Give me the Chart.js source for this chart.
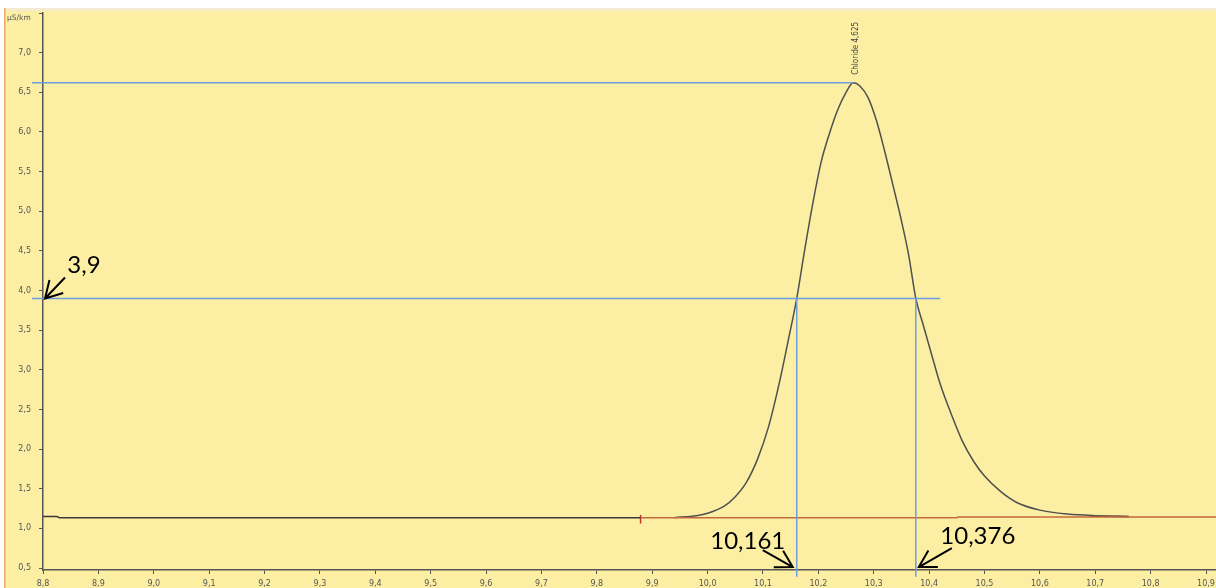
<!DOCTYPE html>
<html lang="de">
<head>
  <meta charset="UTF-8">
  <title>Chloride peak</title>
  <script src="https://cdn.jsdelivr.net/npm/chart.js"></script>
  <style>
    body { margin: 0; padding: 0; background: #fff; }
    .wrap { width: 1216px; height: 588px; position: relative; }
  </style>
</head>
<body>
  <div class="wrap"><canvas id="chromChart"></canvas></div>

  <script>
    // axis ticks (minutes / µS/km)
    const xTickValues = [8.8, 8.9, 9.0, 9.1, 9.2, 9.3, 9.4, 9.5, 9.6, 9.7, 9.8, 9.9,
                         10.0, 10.1, 10.2, 10.3, 10.4, 10.5, 10.6, 10.7, 10.8, 10.9];
    const yTickValues = [0.5, 1.0, 1.5, 2.0, 2.5, 3.0, 3.5, 4.0, 4.5, 5.0, 5.5, 6.0, 6.5, 7.0, 7.5];

    // baseline before the integration start
    const baseTimes  = [8.8, 8.825, 8.83, 9.879];
    const baseValues = [1.15, 1.15, 1.135, 1.135];

    // integration baseline (red)
    const intTimes  = [9.879, 10.45, 10.452, 10.92];
    const intValues = [1.135, 1.135, 1.145, 1.145];
    const markerTime = 9.879;
    const markerValues = [1.06, 1.17];

    // chloride peak
    const peakTimes  = [9.94, 9.98, 10.0, 10.03, 10.05, 10.07, 10.09, 10.11, 10.13, 10.145,
                        10.161, 10.175, 10.19, 10.205, 10.22, 10.235, 10.25, 10.263,
                        10.275, 10.29, 10.305, 10.32, 10.335, 10.35, 10.363, 10.376,
                        10.39, 10.405, 10.42, 10.44, 10.46, 10.48, 10.5, 10.53,
                        10.56, 10.6, 10.65, 10.7, 10.76];
    const peakValues = [1.135, 1.16, 1.19, 1.28, 1.4, 1.58, 1.87, 2.28, 2.85, 3.35,
                        3.9, 4.5, 5.1, 5.62, 5.98, 6.28, 6.5, 6.62,
                        6.58, 6.43, 6.14, 5.75, 5.32, 4.88, 4.45, 3.9,
                        3.55, 3.18, 2.82, 2.44, 2.1, 1.85, 1.66, 1.46,
                        1.32, 1.23, 1.18, 1.16, 1.15];
    const peakTailTimes  = [10.69, 10.76];
    const peakTailValues = [1.157, 1.15];

    const peakName = 'Chloride 4,625';
    const peakTime = 10.263;
    const peakHeight = 6.62;
    const halfHeight = 3.9;
    const leftTime = 10.161;
    const rightTime = 10.376;
    const helperStart = 8.78;
    const helperEnd = 10.42;
    const axisFoot = 0.39;

    const fmt = (v, d) => v.toFixed(d).replace('.', ',');
    const pts = (xs, ys) => xs.map((x, i) => ({ x: x, y: ys[i] }));

    const lineSet = (data, color, width) => ({
      data: data, borderColor: color, borderWidth: width, showLine: true,
      pointRadius: 0, fill: false, clip: false
    });

    const backgroundPlugin = {
      id: 'paper',
      beforeDraw(chart) {
        const ctx = chart.ctx;
        ctx.save();
        ctx.fillStyle = '#ffffff';
        ctx.fillRect(0, 0, chart.width, chart.height);
        ctx.fillStyle = '#fcefa3';
        ctx.fillRect(5, 8, chart.width - 5, chart.height - 8);
        ctx.fillStyle = '#f4ead0';
        ctx.fillRect(5, 8, chart.width - 5, 3);
        ctx.fillStyle = '#f0a868';
        ctx.fillRect(4, 8, 1.5, chart.height - 8);
        ctx.restore();
      }
    };

    function arrow(ctx, tx, ty, fx, fy) {
      const a = Math.atan2(ty - fy, tx - fx);
      const len = 19;
      ctx.beginPath();
      ctx.moveTo(fx, fy);
      ctx.lineTo(tx, ty);
      ctx.moveTo(tx - len * Math.cos(a - Math.PI / 6), ty - len * Math.sin(a - Math.PI / 6));
      ctx.lineTo(tx, ty);
      ctx.lineTo(tx - len * Math.cos(a + Math.PI / 6), ty - len * Math.sin(a + Math.PI / 6));
      ctx.stroke();
    }

    const notesPlugin = {
      id: 'notes',
      afterDatasetsDraw(chart) {
        const ctx = chart.ctx;
        const xs = chart.scales.x, ys = chart.scales.y;
        ctx.save();

        // unit label
        ctx.fillStyle = '#555';
        ctx.font = '7.5px "DejaVu Sans"';
        ctx.textAlign = 'left';
        ctx.textBaseline = 'middle';
        ctx.fillText('µS/km', 7, 18);

        // peak name
        ctx.save();
        ctx.translate(xs.getPixelForValue(peakTime) + 3, ys.getPixelForValue(peakHeight) - 8);
        ctx.rotate(-Math.PI / 2);
        ctx.fillStyle = '#444';
        ctx.font = '8px "DejaVu Sans Condensed", "DejaVu Sans"';
        ctx.textAlign = 'left';
        ctx.fillText(peakName, 0, 0);
        ctx.restore();

        // hand-drawn annotations
        ctx.strokeStyle = '#000';
        ctx.fillStyle = '#000';
        ctx.lineWidth = 2;
        ctx.font = '24px Lato, "Open Sans", sans-serif';
        ctx.textAlign = 'center';
        ctx.textBaseline = 'middle';

        let tx = xs.getPixelForValue(xs.min) + 2, ty = ys.getPixelForValue(halfHeight);
        arrow(ctx, tx, ty, tx + 20, ty - 21);
        ctx.fillText(fmt(halfHeight, 1), tx + 39, ty - 33);

        tx = xs.getPixelForValue(leftTime) - 4; ty = ys.getPixelForValue(0.5) - 1;
        arrow(ctx, tx, ty, tx - 30, ty - 17);
        ctx.fillText(fmt(leftTime, 3), tx - 45, ty - 26);

        tx = xs.getPixelForValue(rightTime) + 3;
        arrow(ctx, tx, ty, tx + 33, ty - 19);
        ctx.fillText(fmt(rightTime, 3), tx + 59, ty - 31);

        ctx.restore();
      }
    };

    const blue = '#6e9ee0';

    new Chart(document.getElementById('chromChart'), {
      type: 'scatter',
      data: {
        datasets: [
          lineSet(pts([helperStart, peakTime], [peakHeight, peakHeight]), blue, 1.5),
          lineSet(pts([helperStart, helperEnd], [halfHeight, halfHeight]), blue, 1.5),
          lineSet(pts([leftTime, leftTime], [halfHeight, axisFoot]), blue, 1.5),
          lineSet(pts([rightTime, rightTime], [halfHeight, axisFoot]), blue, 1.5),
          lineSet(pts(baseTimes, baseValues), '#3a3a3a', 1.5),
          lineSet(pts(intTimes, intValues), '#c46a3c', 1.5),
          lineSet(pts([markerTime, markerTime], markerValues), '#c0392b', 1.5),
          Object.assign(lineSet(pts(peakTimes, peakValues), '#505050', 1.5),
                        { cubicInterpolationMode: 'monotone' }),
          lineSet(pts(peakTailTimes, peakTailValues), '#9a3020', 1.5)
        ]
      },
      options: {
        responsive: true,
        maintainAspectRatio: false,
        animation: false,
        layout: { padding: { top: 13, right: 0, left: 0, bottom: 0 } },
        plugins: { legend: { display: false }, tooltip: { enabled: false } },
        scales: {
          x: {
            type: 'linear', min: 8.8, max: 10.918,
            afterBuildTicks: s => { s.ticks = xTickValues.map(v => ({ value: v })); },
            afterFit: s => { s.height = 18; s.paddingRight = 0; s.paddingLeft = 0; },
            ticks: {
              autoSkip: false, maxRotation: 0, padding: 5, color: '#555',
              font: { family: 'DejaVu Sans', size: 8 },
              callback: v => fmt(v, 1)
            },
            grid: { drawOnChartArea: false, drawTicks: true, tickLength: 4, color: '#555', lineWidth: 1 },
            border: { display: true, color: '#555', width: 1.5 }
          },
          y: {
            type: 'linear', min: 0.475, max: 7.5,
            afterBuildTicks: s => { s.ticks = yTickValues.map(v => ({ value: v })); },
            afterFit: s => { s.width = 43; s.paddingTop = 0; s.paddingBottom = 0; },
            ticks: {
              autoSkip: false, padding: 8, color: '#555',
              font: { family: 'DejaVu Sans', size: 8 },
              callback: v => (v >= 7.5 ? '' : fmt(v, 1))
            },
            grid: { drawOnChartArea: false, drawTicks: true, tickLength: 4, color: '#555', lineWidth: 1 },
            border: { display: true, color: '#555', width: 1.5 }
          }
        }
      },
      plugins: [backgroundPlugin, notesPlugin]
    });
  </script>
</body>
</html>
